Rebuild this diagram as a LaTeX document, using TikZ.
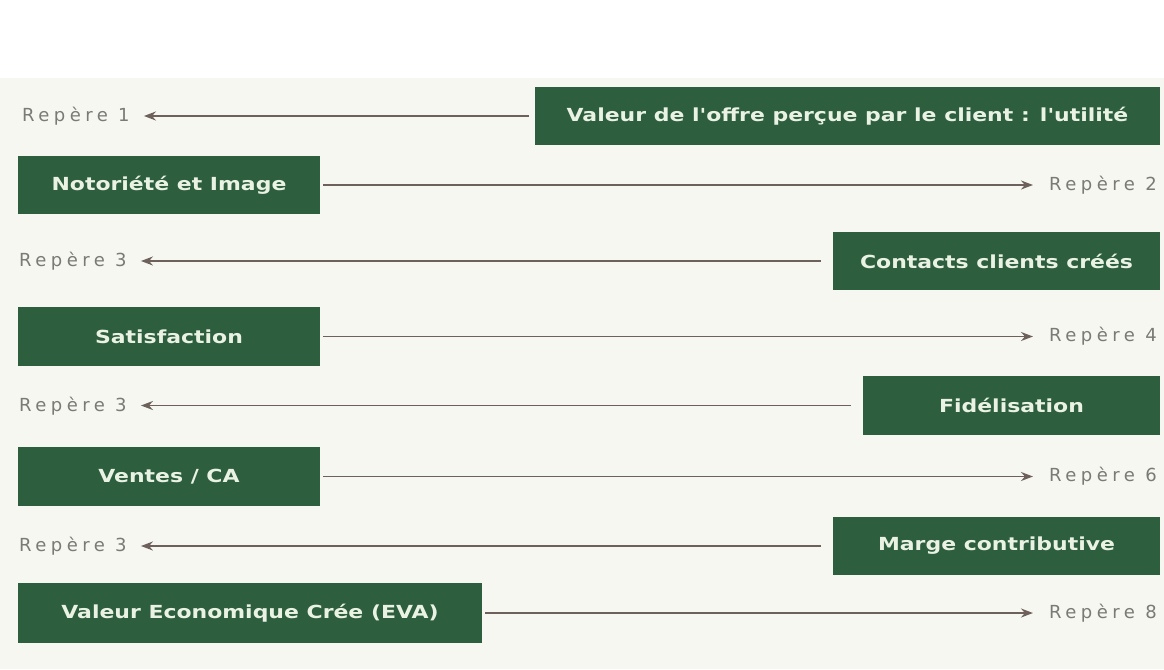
\documentclass[tikz,border=0pt]{standalone}
\usepackage{fontspec}
\setmainfont{DejaVu Sans}
\newfontfamily\boxfont{DejaVu Sans}[FakeStretch=1.22]
\newfontfamily\repfont{DejaVu Sans}[LetterSpace=25]
\usetikzlibrary{arrows.meta}
\definecolor{bg}{HTML}{F7F7F1}
\definecolor{boxgreen}{HTML}{2D5E3D}
\definecolor{boxtext}{HTML}{EAF2E4}
\definecolor{arrowcol}{HTML}{6E605A}
\definecolor{reptext}{HTML}{7A7A76}
\tikzset{
  gbox/.style={fill=boxgreen, draw=none, text=boxtext, font=\boxfont\bfseries\fontsize{18}{21}\selectfont, inner sep=0pt},
  rep/.style={text=reptext, font=\repfont\fontsize{18}{21}\selectfont, inner sep=0pt},
  conn/.style={draw=arrowcol, line width=1.8pt, -{Stealth[length=12pt,width=9pt]}},
}
\begin{document}
\begin{tikzpicture}[x=1pt,y=-1pt]
\useasboundingbox (0,0) rectangle (1164,669);
\clip (0,0) rectangle (1164,669);
\fill[bg] (0,0) rectangle (1164,669);
\fill[white] (0,0) rectangle (1164,78);
% boxes
\node[gbox, minimum width=625pt, minimum height=58pt] (b1) at (847.5,116) {Valeur de l'offre perçue par le client : l'utilité};
\node[gbox, minimum width=302pt, minimum height=58pt] (b2) at (169,185) {Notoriété et Image};
\node[gbox, minimum width=327pt, minimum height=58pt] (b3) at (996.5,261) {Contacts clients créés};
\node[gbox, minimum width=302pt, minimum height=59pt] (b4) at (169,336.5) {Satisfaction};
\node[gbox, minimum width=297pt, minimum height=59pt] (b5) at (1011.5,405.5) {Fidélisation};
\node[gbox, minimum width=302pt, minimum height=59pt] (b6) at (169,476.5) {Ventes / CA};
\node[gbox, minimum width=327pt, minimum height=58pt] (b7) at (996.5,546) {Marge contributive};
\node[gbox, minimum width=464pt, minimum height=60pt] (b8) at (250,613) {Valeur Economique Crée (EVA)};
% labels
\node[rep, anchor=west] (r1) at (22,116) {Repère 1};
\node[rep, anchor=west] (r2) at (1049,185) {Repère 2};
\node[rep, anchor=west] (r3) at (19,261) {Repère 3};
\node[rep, anchor=west] (r4) at (1049,336) {Repère 4};
\node[rep, anchor=west] (r5) at (19,406) {Repère 3};
\node[rep, anchor=west] (r6) at (1049,476) {Repère 6};
\node[rep, anchor=west] (r7) at (19,546) {Repère 3};
\node[rep, anchor=west] (r8) at (1049,613) {Repère 8};
% connectors
\draw[conn, shorten <=6pt, shorten >=14pt] (b1.west) -- (r1.east |- b1.west);
\draw[conn, shorten <=3pt, shorten >=16pt] (b2.east) -- (r2.west |- b2.east);
\draw[conn, shorten <=12pt, shorten >=14pt] (b3.west) -- (r3.east |- b3.west);
\draw[conn, shorten <=3pt, shorten >=16pt] (b4.east) -- (r4.west |- b4.east);
\draw[conn, shorten <=12pt, shorten >=14pt] (b5.west) -- (r5.east |- b5.west);
\draw[conn, shorten <=3pt, shorten >=16pt] (b6.east) -- (r6.west |- b6.east);
\draw[conn, shorten <=12pt, shorten >=14pt] (b7.west) -- (r7.east |- b7.west);
\draw[conn, shorten <=3pt, shorten >=16pt] (b8.east) -- (r8.west |- b8.east);
\end{tikzpicture}
\end{document}
